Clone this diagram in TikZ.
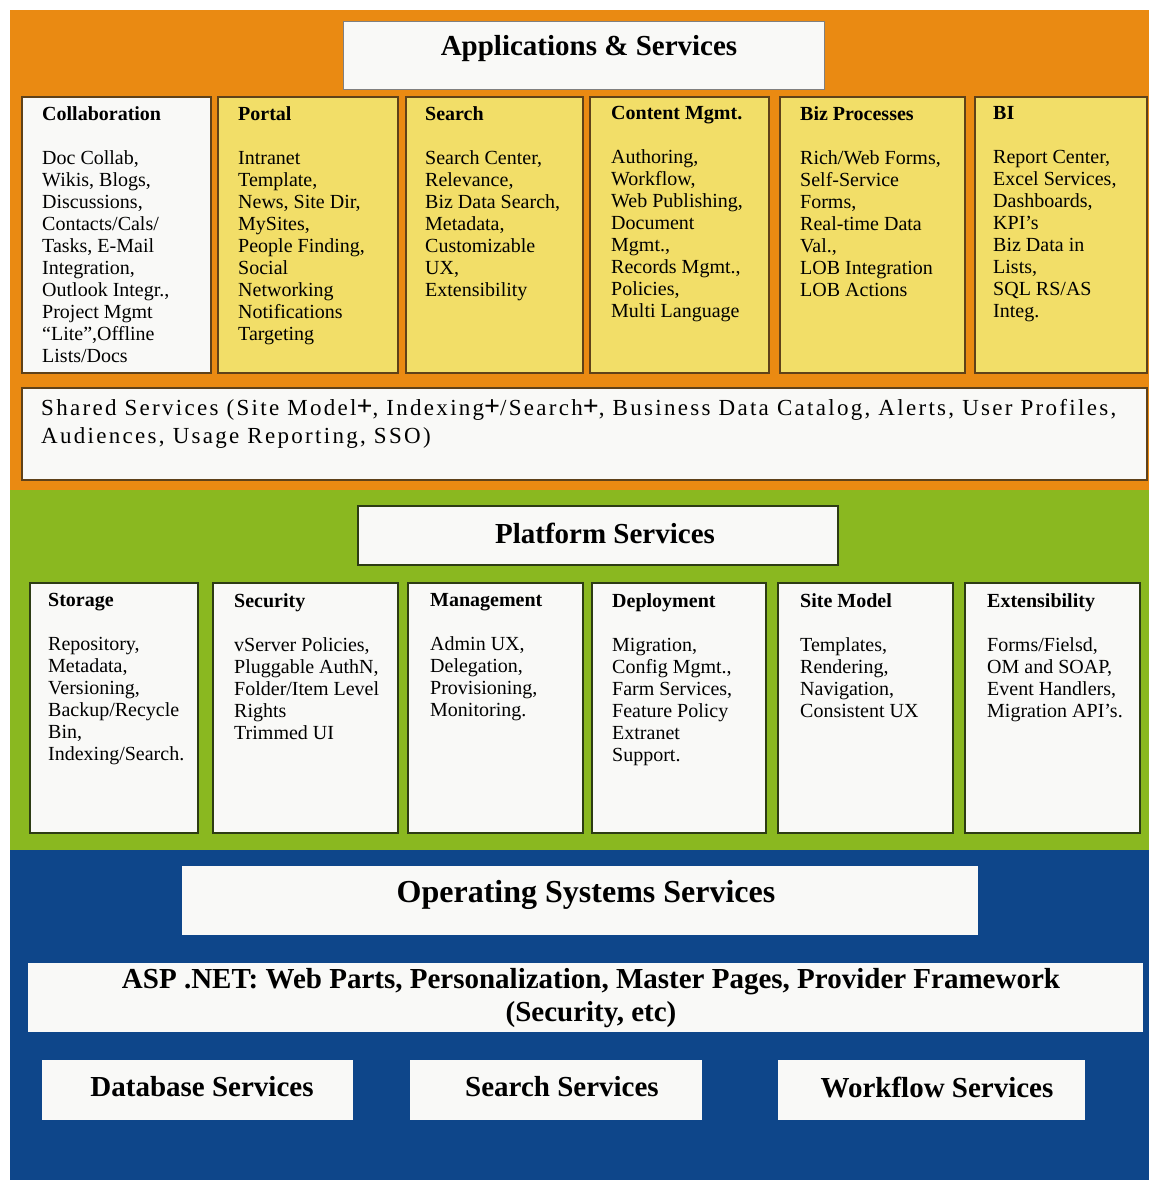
\documentclass[tikz,border=0pt]{standalone}
\usepackage{fontspec}
\setmainfont{Liberation Serif}
\definecolor{orangeband}{RGB}{234,138,18}
\definecolor{greenband}{RGB}{138,184,32}
\definecolor{blueband}{RGB}{14,70,138}
\definecolor{yellowbox}{RGB}{242,222,104}
\definecolor{paper}{RGB}{249,249,247}
\definecolor{brownline}{RGB}{95,65,25}
\definecolor{oliveline}{RGB}{45,60,20}
\newcommand{\plusmark}{{\fontsize{28}{28}\selectfont\bfseries +}}
\begin{document}
\begin{tikzpicture}[x=1pt,y=-1pt,
  band/.style={fill=#1, draw=none, inner sep=0pt, outer sep=0pt, anchor=north west},
  panel/.style={fill=#1, inner sep=0pt, outer sep=0pt, anchor=north west, line width=1.8pt},
  btext/.style={anchor=north west, align=left, inner sep=0pt, font=\fontsize{20}{22}\selectfont},
  bigtitle/.style={inner sep=0pt, font=\fontsize{29}{32}\selectfont\bfseries},
  lowtitle/.style={inner sep=0pt, align=center, font=\fontsize{29}{33}\selectfont\bfseries}
]
% background and bands
\node[band=white, minimum width=1149pt, minimum height=1182pt] (bg) at (0,0) {};
\node[band=orangeband, minimum width=1139pt, minimum height=480pt] (apps) at (10,10) {};
\node[band=greenband, minimum width=1139pt, minimum height=360pt] (plat) at (10,490) {};
\node[band=blueband, minimum width=1139pt, minimum height=330pt] (os) at (10,850) {};

% ---------- Applications & Services ----------
\node[panel=paper, draw=gray, line width=1pt, minimum width=481pt, minimum height=68pt] (appsbox) at (343,22) {};
\node[bigtitle] (appstitle) at (589,49) {Applications \& Services};

\node[panel=paper, draw=brownline, minimum width=189pt, minimum height=276pt] (collab) at (22,97) {};
\node[panel=yellowbox, draw=brownline, minimum width=180pt, minimum height=276pt] (portal) at (218,97) {};
\node[panel=yellowbox, draw=brownline, minimum width=177pt, minimum height=276pt] (search) at (406,97) {};
\node[panel=yellowbox, draw=brownline, minimum width=179pt, minimum height=276pt] (content) at (590,97) {};
\node[panel=yellowbox, draw=brownline, minimum width=185pt, minimum height=276pt] (biz) at (780,97) {};
\node[panel=yellowbox, draw=brownline, minimum width=172pt, minimum height=276pt] (bi) at (975,97) {};

\node[btext] (collabt) at (42,106) {\textbf{Collaboration}\\[22pt]Doc Collab,\\Wikis, Blogs,\\Discussions,\\Contacts/Cals/\\Tasks, E-Mail\\Integration,\\Outlook Integr.,\\Project Mgmt\\``Lite'',Offline\\Lists/Docs};
\node[btext] (portalt) at (238,106) {\textbf{Portal}\\[22pt]Intranet\\Template,\\News, Site Dir,\\MySites,\\People Finding,\\Social\\Networking\\Notifications\\Targeting};
\node[btext] (searcht) at (425,106) {\textbf{Search}\\[22pt]Search Center,\\Relevance,\\Biz Data Search,\\Metadata,\\Customizable\\UX,\\Extensibility};
\node[btext] (contentt) at (611,106) {\textbf{Content Mgmt.}\\[22pt]Authoring,\\Workflow,\\Web Publishing,\\Document\\Mgmt.,\\Records Mgmt.,\\Policies,\\Multi Language};
\node[btext] (bizt) at (800,106) {\textbf{Biz Processes}\\[22pt]Rich/Web Forms,\\Self-Service\\Forms,\\Real-time Data\\Val.,\\LOB Integration\\LOB Actions};
\node[btext] (bit) at (993,106) {\textbf{BI}\\[22pt]Report Center,\\Excel Services,\\Dashboards,\\KPI's\\Biz Data in\\Lists,\\SQL RS/AS\\Integ.};

\node[panel=paper, draw=brownline, minimum width=1125pt, minimum height=92pt] (shared) at (22,388) {};
\node[anchor=north west, align=left, inner sep=0pt, font=\fontsize{23}{28}\selectfont\addfontfeature{LetterSpace=10}] (sharedt) at (41,399) {Shared Services (Site Model\plusmark, Indexing\plusmark/Search\plusmark, Business Data Catalog, Alerts, User Profiles,\\Audiences, Usage Reporting, SSO)};

% ---------- Platform Services ----------
\node[panel=paper, draw=oliveline, line width=1.4pt, minimum width=480pt, minimum height=59pt] (platbox) at (358,506) {};
\node[bigtitle] (plattitle) at (605,533) {Platform Services};

\node[panel=paper, draw=oliveline, minimum width=168pt, minimum height=250pt] (storage) at (30,583) {};
\node[panel=paper, draw=oliveline, minimum width=185pt, minimum height=250pt] (security) at (213,583) {};
\node[panel=paper, draw=oliveline, minimum width=175pt, minimum height=250pt] (mgmt) at (408,583) {};
\node[panel=paper, draw=oliveline, minimum width=174pt, minimum height=250pt] (deploy) at (592,583) {};
\node[panel=paper, draw=oliveline, minimum width=175pt, minimum height=250pt] (site) at (778,583) {};
\node[panel=paper, draw=oliveline, minimum width=175pt, minimum height=250pt] (ext) at (965,583) {};

\node[btext] (storaget) at (48,593) {\textbf{Storage}\\[22pt]Repository,\\Metadata,\\Versioning,\\Backup/Recycle\\Bin,\\Indexing/Search.};
\node[btext] (securityt) at (234,593) {\textbf{Security}\\[22pt]vServer Policies,\\Pluggable AuthN,\\Folder/Item Level\\Rights\\Trimmed UI};
\node[btext] (mgmtt) at (430,593) {\textbf{Management}\\[22pt]Admin UX,\\Delegation,\\Provisioning,\\Monitoring.};
\node[btext] (deployt) at (612,593) {\textbf{Deployment}\\[22pt]Migration,\\Config Mgmt.,\\Farm Services,\\Feature Policy\\Extranet\\Support.};
\node[btext] (sitet) at (800,593) {\textbf{Site Model}\\[22pt]Templates,\\Rendering,\\Navigation,\\Consistent UX};
\node[btext] (extt) at (987,593) {\textbf{Extensibility}\\[22pt]Forms/Fielsd,\\OM and SOAP,\\Event Handlers,\\Migration API's.};

% ---------- Operating Systems Services ----------
\node[panel=paper, draw=none, minimum width=796pt, minimum height=69pt] (osbox) at (182,866) {};
\node[lowtitle, font=\fontsize{32}{33}\selectfont\bfseries] (ostitle) at (586,895) {Operating Systems Services};

\node[panel=paper, draw=none, minimum width=1115pt, minimum height=69pt] (aspbox) at (28,963) {};
\node[lowtitle, font=\fontsize{29}{33}\selectfont\bfseries] (asptitle) at (591,998) {ASP .NET: Web Parts, Personalization, Master Pages, Provider Framework\\(Security, etc)};

\node[panel=paper, draw=none, minimum width=311pt, minimum height=60pt] (dbbox) at (42,1060) {};
\node[panel=paper, draw=none, minimum width=292pt, minimum height=60pt] (srbox) at (410,1060) {};
\node[panel=paper, draw=none, minimum width=307pt, minimum height=60pt] (wfbox) at (778,1060) {};
\node[lowtitle] (dbt) at (202,1087) {Database Services};
\node[lowtitle] (srt) at (562,1087) {Search Services};
\node[lowtitle] (wft) at (937,1087) {Workflow Services};
\end{tikzpicture}
\end{document}
